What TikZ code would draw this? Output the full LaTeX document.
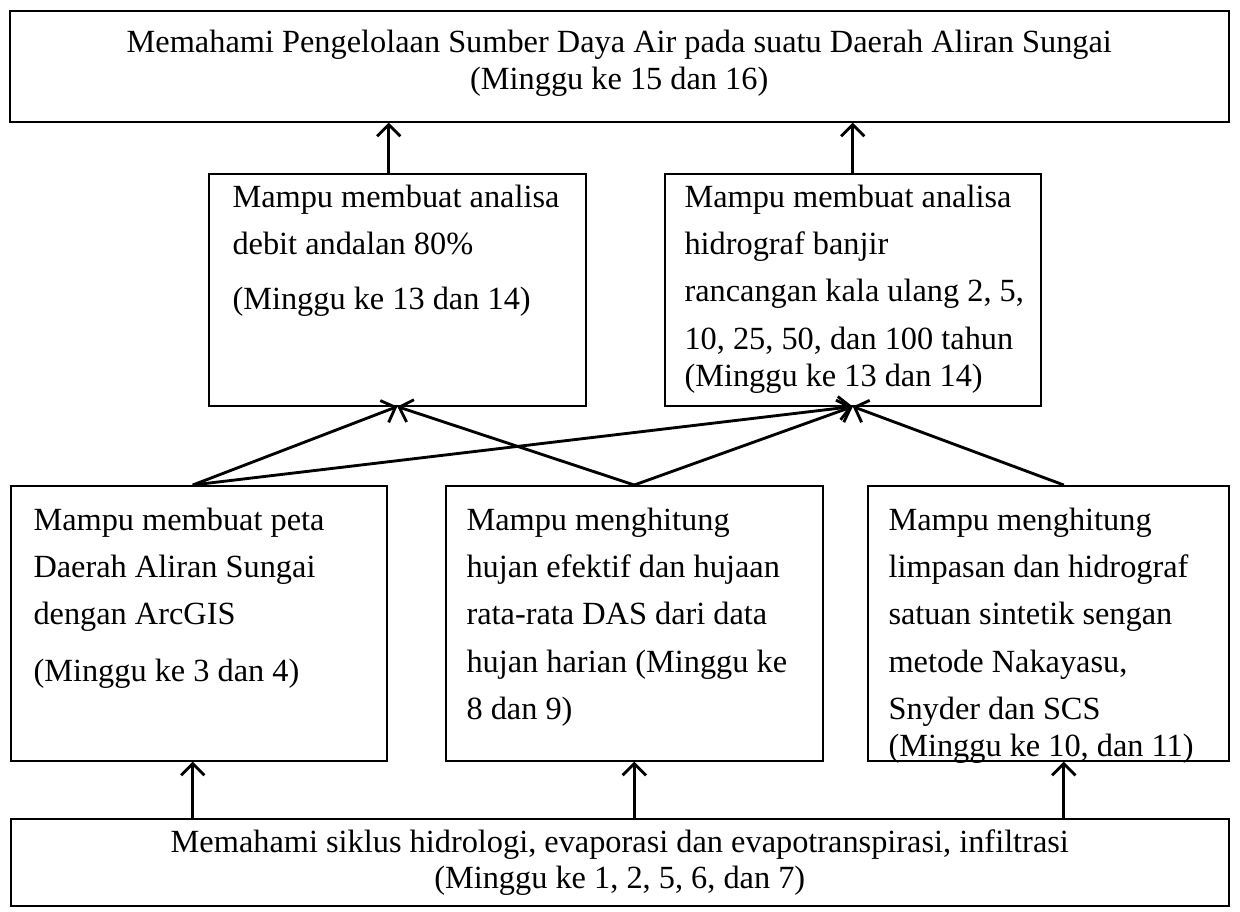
\documentclass[tikz,border=0pt]{standalone}
\usepackage{fontspec}
\setmainfont{Liberation Serif}
\usetikzlibrary{arrows.meta,calc}
\begin{document}
\begin{tikzpicture}[x=0.385pt,y=-0.385pt,
  box/.style={draw, line width=0.6pt, inner sep=0pt, anchor=north west},
  arr/.style={line width=1.1pt, -{Straight Barb[length=4.5pt,width=9pt,line width=1.1pt]}},
  txt/.style={anchor=north west, inner sep=0pt, align=left, font=\fontsize{12.45}{18.1}\selectfont},
  ctxt/.style={align=center, inner sep=0pt, font=\fontsize{12.45}{14}\selectfont}]
\useasboundingbox (0,0) rectangle (1240,911);
\fill[white] (0,0) rectangle (1240,911);

% boxes
\node[box, minimum width=1219*0.385, minimum height=111*0.385] (top) at (9,10) {};
\node[box, minimum width=377*0.385, minimum height=232*0.385] (m1) at (208,173) {};
\node[box, minimum width=376*0.385, minimum height=232*0.385] (m2) at (664,173) {};
\node[box, minimum width=376*0.385, minimum height=275*0.385] (b1) at (10,485) {};
\node[box, minimum width=377*0.385, minimum height=275*0.385] (b2) at (445,485) {};
\node[box, minimum width=361*0.385, minimum height=275*0.385] (b3) at (867,485) {};
\node[box, minimum width=1218*0.385, minimum height=87*0.385] (bot) at (10,818) {};

% texts
\node[ctxt] (ttop) at ($(top.center)+(0,-3)$) {Memahami Pengelolaan Sumber Daya Air pada suatu Daerah Aliran Sungai\\(Minggu ke 15 dan 16)};
\node[ctxt] (tbot) at ($(bot.center)+(0,0)$) {Memahami siklus hidrologi, evaporasi dan evapotranspirasi, infiltrasi\\(Minggu ke 1, 2, 5, 6, dan 7)};
\node[txt] (tm1) at ($(m1.north west)+(24,12)$) {Mampu membuat analisa\\debit andalan 80\%\\[3pt](Minggu ke 13 dan 14)};
\node[txt] (tm2) at ($(m2.north west)+(20,12)$) {Mampu membuat analisa\\hidrograf banjir\\rancangan kala ulang 2, 5,\\10, 25, 50, dan 100 tahun\\[-3.5pt](Minggu ke 13 dan 14)};
\node[txt] (tb1) at ($(b1.north west)+(23,23)$) {Mampu membuat peta\\Daerah Aliran Sungai\\dengan ArcGIS\\[3.5pt](Minggu ke 3 dan 4)};
\node[txt] (tb2) at ($(b2.north west)+(21,23)$) {Mampu menghitung\\hujan efektif dan hujaan\\rata-rata DAS dari data\\hujan harian (Minggu ke\\8 dan 9)};
\node[txt] (tb3) at ($(b3.north west)+(21,23)$) {Mampu menghitung\\limpasan dan hidrograf\\satuan sintetik sengan\\metode Nakayasu,\\Snyder dan SCS\\[-3.5pt](Minggu ke 10, dan 11)};

% coordinates for connector ends
\coordinate (a1) at ($(m1.north)+(-8.5,0)$);
\coordinate (a1t) at (a1 |- top.south);
\coordinate (a2) at (m2.north);
\coordinate (a2t) at (a2 |- top.south);
\coordinate (p1) at ($(b1.north)+(-6,0)$);
\coordinate (p2) at (b2.north);
\coordinate (p3) at ($(b3.north)+(15.5,0)$);
\coordinate (q1) at (p1 |- bot.north);
\coordinate (q2) at (p2 |- bot.north);
\coordinate (q3) at (p3 |- bot.north);
\coordinate (r1) at (p1 |- b1.south);
\coordinate (r2) at (p2 |- b2.south);
\coordinate (r3) at (p3 |- b3.south);

% vertical arrows
\draw[arr] (a1) -- (a1t);
\draw[arr] (a2) -- (a2t);
\draw[arr] (q1) -- (r1);
\draw[arr] (q2) -- (r2);
\draw[arr] (q3) -- (r3);

% diagonal arrows
\draw[arr] (p1) -- (m1.south);
\draw[arr] (p1) -- (m2.south);
\draw[arr] (p2) -- (m1.south);
\draw[arr] (p2) -- (m2.south);
\draw[arr] (p3) -- (m2.south);
\end{tikzpicture}
\end{document}
